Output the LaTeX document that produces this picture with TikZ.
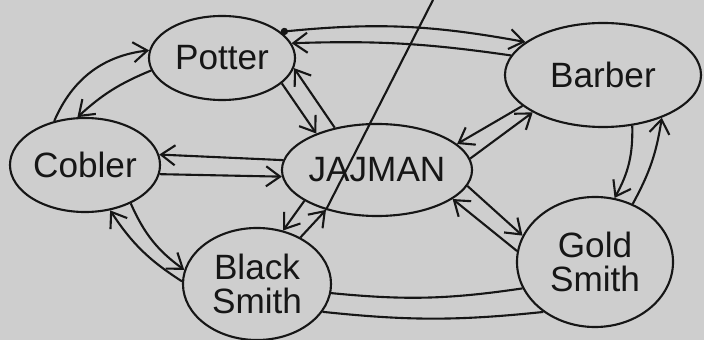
\documentclass[tikz,border=0pt]{standalone}
\usepackage{fontspec}
\setmainfont{Liberation Sans}
\usetikzlibrary{shapes.geometric, arrows.meta}
\definecolor{paper}{RGB}{206,206,206}
\definecolor{ink}{RGB}{22,22,22}

\begin{document}
\begin{tikzpicture}[x=0.025cm, y=-0.025cm, line width=1.5pt, ink,
  hut/.style={draw, ellipse, inner sep=0pt},
  arr/.style={-{Straight Barb[length=3.5mm, width=5mm]}},
  every label/.style={font=\fontsize{25}{24}\selectfont, align=center}]
  \fill[paper] (0,0) rectangle (704,340);
  \useasboundingbox (0,0) rectangle (704,340);

  % the six castes
  \node (potter) [hut, minimum width=3.65cm, minimum height=2.1cm, label={center:Potter}] at (222,58) {};
  \node (barber) [hut, minimum width=4.9cm, minimum height=2.6cm, label={center:Barber}] at (603,75) {};
  \node (cobler) [hut, minimum width=3.75cm, minimum height=2.35cm, label={center:Cobler}] at (85,165) {};
  \node (jajman) [hut, minimum width=4.75cm, minimum height=2.3cm, label={center:JAJMAN}] at (377,170) {};
  \node (black) [hut, minimum width=3.7cm, minimum height=2.8cm, label={center:Black\\Smith}] at (257,284) {};
  \node (gold) [hut, minimum width=3.9cm, minimum height=3.25cm, label={center:Gold\\Smith}] at (595,262) {};

  \draw [{Circle[length=1.8mm]}-{Straight Barb[length=3.5mm, width=5mm]}]
    (potter.24) to[bend left=8] (barber.157);

  % source/angle/target/angle/bend
  \foreach \s/\p/\t/\q/\b in {barber/168/potter/12/-5, potter/337/jajman/149/0,
      jajman/135/potter/352/0, cobler/125/potter/174/30, potter/190/cobler/99/-10,
      jajman/174/cobler/8/0, cobler/353/jajman/184/0, black/178/cobler/299/12,
      cobler/320/black/169/-15, jajman/203/black/64/0, black/47/jajman/218/0,
      barber/201/jajman/18/0, jajman/7/barber/208/0, jajman/350/gold/160/0,
      gold/172/jajman/339/0, barber/300/gold/73/15, gold/57/barber/324/-10}
    \draw [arr] (\s.\p) to[bend left=\b] (\t.\q);

  \foreach \p/\q/\b in {353/200/-7, 337/224/-6}
    \draw (black.\p) to[bend left=\b] (gold.\q);

  \coordinate (spine) at (433,0);
  \draw (spine) -- (jajman.218);
\end{tikzpicture}
\end{document}
